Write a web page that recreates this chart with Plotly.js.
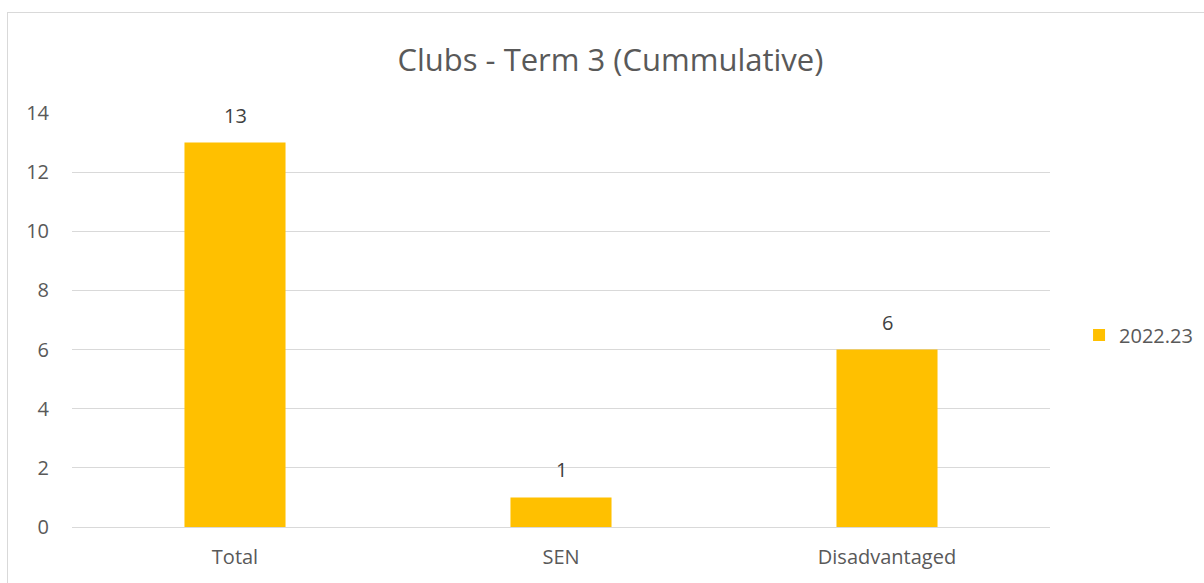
<!DOCTYPE html>
<html>
<head>
<meta charset="utf-8">
<script src="https://cdn.plot.ly/plotly-3.0.1.min.js"></script>
<style>
html,body{margin:0;padding:0;background:#fff;}
#wrap{position:relative;width:1204px;height:583px;overflow:hidden;}
#chart{width:1204px;height:583px;}
#border{position:absolute;left:7px;top:12px;width:1300px;height:700px;border-left:1.5px solid #d9d9d9;border-top:1.5px solid #d9d9d9;pointer-events:none;}
</style>
</head>
<body>
<div id="wrap"><div id="chart"></div><div id="border"></div></div>
<script>
const categories = ["Total", "SEN", "Disadvantaged"];
const values = [13, 1, 6];
const seriesName = "2022.23";
const yTicks = [0, 2, 4, 6, 8, 10, 12, 14];

const font = "'Open Sans', 'Liberation Sans', sans-serif";
const trace = {
  type: "bar",
  x: categories,
  y: values,
  name: seriesName,
  marker: {color: "#FFC000"},
  showlegend: true
};
const annotations = categories.map((c, i) => ({
  x: c, y: values[i], xref: "x", yref: "y",
  text: String(values[i]), showarrow: false,
  yanchor: "bottom", yshift: 12,
  font: {size: 20, color: "#404040", family: font}
}));
const layout = {
  width: 1204, height: 583,
  margin: {l: 72, r: 154, t: 113, b: 56, autoexpand: false},
  paper_bgcolor: "#fff", plot_bgcolor: "#fff",
  font: {family: font, color: "#595959", size: 20},
  title: {text: "Clubs - Term 3 (Cummulative)", font: {size: 31, color: "#595959", family: font},
          x: 0.507, xref: "container", xanchor: "center", y: 0.897, yref: "container", yanchor: "middle"},
  bargap: 0.69,
  xaxis: {tickfont: {size: 20, color: "#595959"}, showline: true, linecolor: "#d9d9d9", linewidth: 1, ticks: "",
          ticklabelstandoff: 12, fixedrange: true},
  yaxis: {range: [0, 14], tickvals: yTicks, ticktext: yTicks.map(String), gridcolor: "#d9d9d9", gridwidth: 1,
          zeroline: false, tickfont: {size: 20, color: "#595959"}, ticks: "", ticklabelstandoff: 22, fixedrange: true},
  annotations: annotations,
  showlegend: true,
  legend: {x: 1.0297, xanchor: "left", y: 0.464, yanchor: "middle", font: {size: 20, color: "#595959"}, itemwidth: 30},
};
Plotly.newPlot("chart", [trace], layout, {displayModeBar: false, staticPlot: true});
</script>
</body>
</html>
